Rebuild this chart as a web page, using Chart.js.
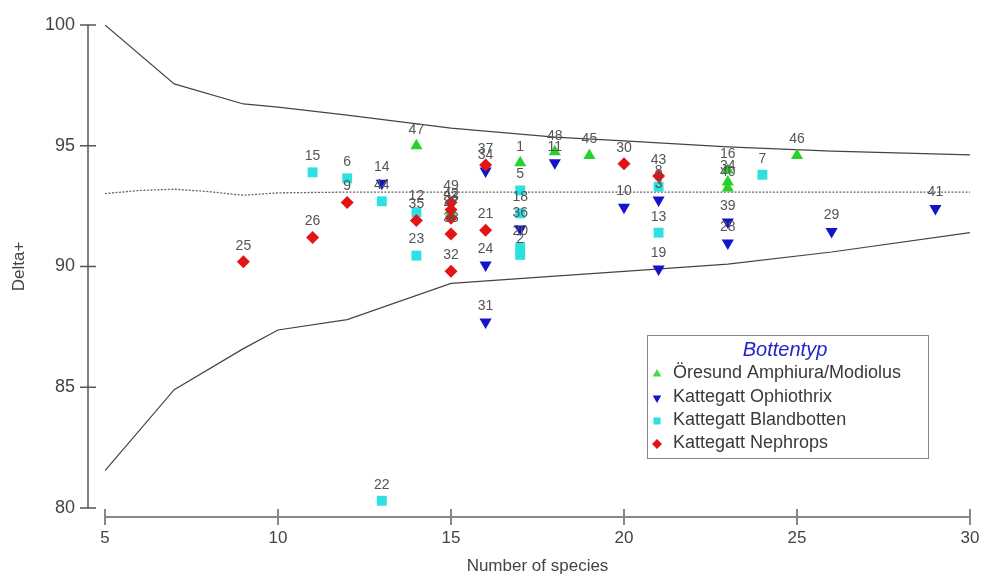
<!DOCTYPE html>
<html>
<head>
<meta charset="utf-8">
<script src="https://cdn.jsdelivr.net/npm/chart.js@4/dist/chart.umd.min.js"></script>
<style>
  html, body { margin: 0; padding: 0; background: #fff; }
  #wrap { width: 984px; height: 577px; }
</style>
</head>
<body>
<div id="wrap"><canvas id="deltaChart" width="984" height="577"></canvas></div>
<script>
// funnel (95% limits) and mean line
const funnelX = [5, 7, 9, 10, 12, 15, 18, 20, 23, 26, 30];
const upperY = [100, 97.56, 96.73, 96.6, 96.27, 95.73, 95.36, 95.2, 94.95, 94.78, 94.62];
const lowerY = [81.55, 84.9, 86.6, 87.37, 87.8, 89.3, 89.6, 89.8, 90.1, 90.6, 91.4];
const meanX = [5, 6, 7, 8, 9, 10, 12, 15, 20, 25, 30];
const meanY = [93.02, 93.15, 93.2, 93.1, 92.95, 93.05, 93.08, 93.08, 93.08, 93.08, 93.08];

// Öresund Amphiura/Modiolus
const oresundX = [14, 17, 18, 19, 25, 23, 23, 23, 15];
const oresundY = [95.0, 94.3, 94.75, 94.6, 94.6, 94.0, 93.5, 93.25, 92.2];
const oresundLabels = ['47', '1', '48', '45', '46', '16', '34', '40', '33'];

// Kattegatt Ophiothrix
const ophioX = [13, 16, 18, 16, 16, 17, 20, 21, 21, 23, 23, 26, 29];
const ophioY = [93.45, 93.95, 94.3, 90.06, 87.7, 91.55, 92.45, 92.75, 89.9, 91.84, 90.97, 91.45, 92.4];
const ophioLabels = ['14', '34', '11', '24', '31', '36', '10', '3', '19', '39', '28', '29', '41'];

// Kattegatt Blandbotten
const blandX = [11, 12, 13, 13, 14, 14, 17, 17, 17, 17, 21, 21, 24];
const blandY = [93.9, 93.65, 92.7, 80.3, 92.25, 90.45, 93.15, 92.2, 90.8, 90.48, 93.3, 91.4, 93.8];
const blandLabels = ['15', '6', '44', '22', '12', '23', '5', '18', '20', '2', '8', '13', '7'];

// Kattegatt Nephrops
const nephX = [9, 11, 12, 14, 15, 15, 15, 15, 15, 16, 16, 20, 21];
const nephY = [90.2, 91.2, 92.65, 91.9, 92.65, 92.35, 92.0, 91.35, 89.8, 94.2, 91.5, 94.25, 93.75];
const nephLabels = ['25', '26', '9', '35', '49', '42', '27', '38', '32', '37', '21', '30', '43'];

const xTicks = [5, 10, 15, 20, 25, 30];
const yTicks = [80, 85, 90, 95, 100];

const FONT = '"Liberation Sans", Arial, sans-serif';
const toPoints = (xs, ys) => xs.map((x, i) => ({ x: x, y: ys[i] }));

const groups = [
    { name: 'Öresund Amphiura/Modiolus', xs: oresundX, ys: oresundY, labels: oresundLabels, color: '#2bd02b', legendColor: '#44dd44', style: 'triangle', rot: 0, r: 7, order: 4 },
    { name: 'Kattegatt Ophiothrix', xs: ophioX, ys: ophioY, labels: ophioLabels, color: '#1414c8', legendColor: '#1414c8', style: 'triangle', rot: 180, r: 7, order: 2 },
    { name: 'Kattegatt Blandbotten', xs: blandX, ys: blandY, labels: blandLabels, color: '#2ee0e0', legendColor: '#2ee0e0', style: 'rect', rot: 0, r: 7, order: 3 },
    { name: 'Kattegatt Nephrops', xs: nephX, ys: nephY, labels: nephLabels, color: '#e41414', legendColor: '#e41414', style: 'rectRot', rot: 0, r: 6.5, order: 1 }
];

const pointSets = groups.map(g => ({
    label: g.name,
    data: toPoints(g.xs, g.ys),
    pointLabels: g.labels,
    pointStyle: g.style,
    rotation: g.rot,
    pointRadius: g.r,
    backgroundColor: g.color,
    borderColor: g.color,
    borderWidth: 0,
    showLine: false,
    order: g.order
}));

const lineSets = [
    { data: toPoints(funnelX, upperY), borderColor: '#444', borderWidth: 1.2, showLine: true, pointRadius: 0, order: 10 },
    { data: toPoints(funnelX, lowerY), borderColor: '#444', borderWidth: 1.2, showLine: true, pointRadius: 0, order: 10 },
    { data: toPoints(meanX, meanY), borderColor: '#666', borderWidth: 1.3, borderDash: [2, 1.5], showLine: true, pointRadius: 0, order: 10 }
];

// axes drawn offset from the plot, like the PRIMER output
const axesPlugin = {
    id: 'offsetAxes',
    afterDraw(chart) {
        const ctx = chart.ctx;
        const xs = chart.scales.x, ys = chart.scales.y;
        ctx.save();
        // y axis
        ctx.strokeStyle = '#555';
        ctx.lineWidth = 1.5;
        ctx.beginPath();
        ctx.moveTo(88, ys.getPixelForValue(100));
        ctx.lineTo(88, ys.getPixelForValue(80));
        yTicks.forEach(v => {
            const py = ys.getPixelForValue(v);
            ctx.moveTo(80, py);
            ctx.lineTo(96, py);
        });
        ctx.stroke();
        // x axis
        ctx.strokeStyle = '#888';
        ctx.lineWidth = 2;
        ctx.beginPath();
        ctx.moveTo(xs.getPixelForValue(5), 517);
        ctx.lineTo(xs.getPixelForValue(30), 517);
        xTicks.forEach(v => {
            const px = xs.getPixelForValue(v);
            ctx.moveTo(px, 509);
            ctx.lineTo(px, 525);
        });
        ctx.stroke();

        // legend box
        ctx.fillStyle = '#fff';
        ctx.fillRect(647, 335, 281, 123);
        ctx.strokeStyle = '#888';
        ctx.lineWidth = 1;
        ctx.strokeRect(647.5, 335.5, 281, 123);
        ctx.fillStyle = '#2323c8';
        ctx.font = 'italic 20px ' + FONT;
        ctx.textAlign = 'center';
        ctx.textBaseline = 'middle';
        ctx.fillText('Bottentyp', 785, 350);
        ctx.font = '18px ' + FONT;
        ctx.textAlign = 'left';
        const rows = [373, 397, 420, 443];
        groups.forEach((g, i) => {
            ctx.fillStyle = g.legendColor;
            ctx.strokeStyle = g.legendColor;
            Chart.helpers.drawPoint(ctx, { pointStyle: g.style, rotation: g.rot, radius: 5, borderWidth: 0 }, 657, rows[i] + 1);
            ctx.fillStyle = '#3a3a3a';
            ctx.fillText(g.name, 673, rows[i]);
        });
        ctx.restore();
    }
};

const labelPlugin = {
    id: 'pointNumbers',
    afterDatasetsDraw(chart) {
        const ctx = chart.ctx;
        ctx.save();
        ctx.font = '14px ' + FONT;
        ctx.fillStyle = '#555';
        ctx.textAlign = 'center';
        ctx.textBaseline = 'bottom';
        chart.data.datasets.forEach((ds, di) => {
            if (!ds.pointLabels) return;
            chart.getDatasetMeta(di).data.forEach((pt, i) => {
                ctx.fillText(ds.pointLabels[i], pt.x, pt.y - 9);
            });
        });
        ctx.restore();
    }
};

document.addEventListener('DOMContentLoaded', () => {
    const ctx = document.getElementById('deltaChart').getContext('2d');
    new Chart(ctx, {
        type: 'scatter',
        data: { datasets: pointSets.concat(lineSets) },
        options: {
            responsive: false,
            animation: false,
            layout: { padding: { top: 25, right: 14, left: 0, bottom: 0 } },
            plugins: { legend: { display: false }, tooltip: { enabled: false } },
            scales: {
                x: {
                    type: 'linear', min: 5, max: 30,
                    afterBuildTicks: s => { s.ticks = xTicks.map(v => ({ value: v })); },
                    afterFit: s => { s.height = 69; s.paddingLeft = 0; s.paddingRight = 0; },
                    grid: { display: false, drawTicks: false },
                    border: { display: false },
                    ticks: { padding: 20, color: '#444', font: { family: FONT, size: 17 } },
                    title: { display: true, text: 'Number of species', color: '#444', padding: { top: 0, bottom: 0 }, font: { family: FONT, size: 17 } }
                },
                y: {
                    type: 'linear', min: 80, max: 100,
                    afterBuildTicks: s => { s.ticks = yTicks.map(v => ({ value: v })); },
                    afterFit: s => { s.width = 105; s.paddingTop = 0; s.paddingBottom = 0; },
                    grid: { display: false, drawTicks: false },
                    border: { display: false },
                    ticks: { padding: 30, color: '#444', font: { family: FONT, size: 18 } },
                    title: { display: true, text: 'Delta+', color: '#444', padding: { top: 9, bottom: 0 }, font: { family: FONT, size: 17 } }
                }
            }
        },
        plugins: [axesPlugin, labelPlugin]
    });
});
</script>
</body>
</html>
